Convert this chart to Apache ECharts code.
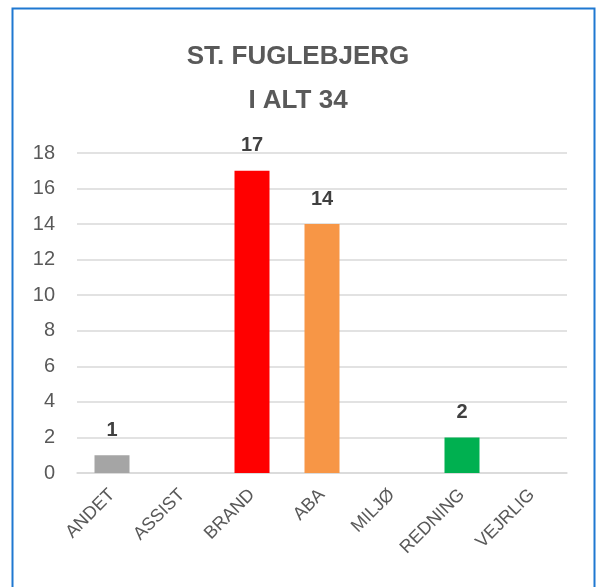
<!DOCTYPE html>
<html><head><meta charset="utf-8">
<script src="https://cdn.jsdelivr.net/npm/echarts@6/dist/echarts.min.js"></script>
<style>html,body{margin:0;padding:0;background:#fff}#c{width:596px;height:587px}</style>
</head><body><div id="c"></div>
<script>
const categories = ['ANDET','ASSIST','BRAND','ABA','MILJØ','REDNING','VEJRLIG'];
const values = [1, 0, 17, 14, 0, 2, 0];
const colors = ['#A5A5A5','#A5A5A5','#FF0000','#F79646','#A5A5A5','#00B050','#A5A5A5'];
const yTicks = {min: 0, max: 18, interval: 2};
const titleLines = ['ST. FUGLEBJERG', 'I ALT 34'];

const chart = echarts.init(document.getElementById('c'), null, {renderer: 'canvas'});
chart.setOption({
  animation: false,
  title: {
    text: titleLines.join('\n'),
    left: 'center', top: 30,
    textStyle: {fontFamily: 'Liberation Sans', fontWeight: 'bold', fontSize: 26, color: '#595959', lineHeight: 44}
  },
  graphic: [{
    type: 'rect', shape: {x: 12.5, y: 8.5, width: 582, height: 600},
    style: {fill: 'none', stroke: '#1F78D1', lineWidth: 2}
  }],
  grid: {left: 77, right: 29, top: 153, bottom: 114, containLabel: false},
  xAxis: {
    type: 'category', data: categories,
    axisLine: {show: true, lineStyle: {color: '#D9D9D9', width: 1.5}},
    axisTick: {show: false},
    axisLabel: {rotate: 45, color: '#595959', fontSize: 18, fontFamily: 'Liberation Sans', margin: 19, interval: 0}
  },
  yAxis: {
    type: 'value', min: yTicks.min, max: yTicks.max, interval: yTicks.interval,
    axisLine: {show: false}, axisTick: {show: false},
    splitLine: {lineStyle: {color: '#D9D9D9', width: 1.5}},
    axisLabel: {color: '#595959', fontSize: 20, fontFamily: 'Liberation Sans', margin: 22}
  },
  series: [{
    type: 'bar', barWidth: '50%',
    data: values.map((v, i) => ({value: v, itemStyle: {color: colors[i]},
      label: {show: v > 0}})),
    label: {position: 'top', distance: 15, fontWeight: 'bold', fontSize: 20, color: '#404040', fontFamily: 'Liberation Sans'}
  }]
});
</script></body></html>
